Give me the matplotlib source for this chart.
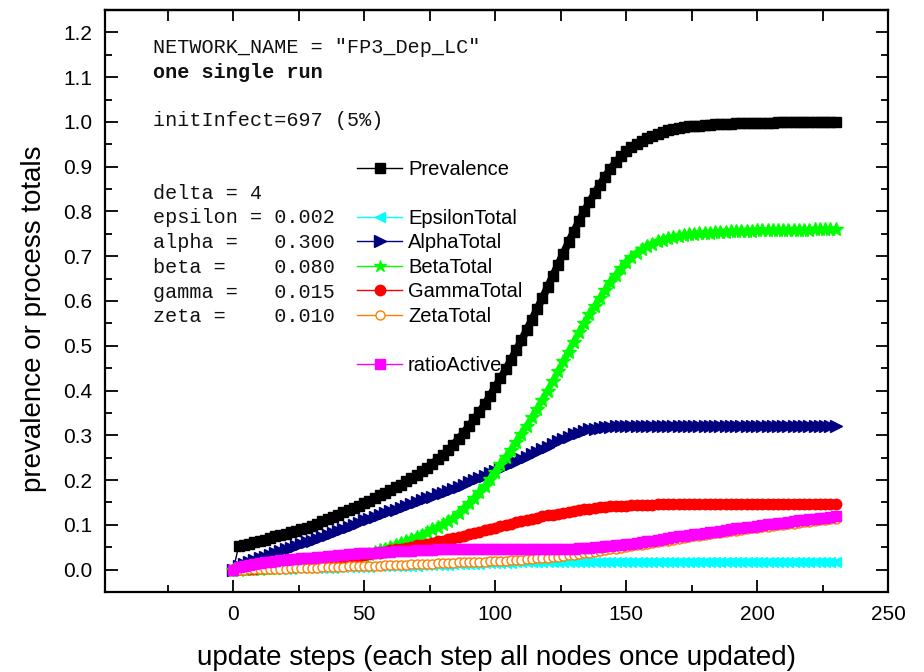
import matplotlib
matplotlib.use("Agg")
import matplotlib.pyplot as plt
from matplotlib.lines import Line2D
from matplotlib.ticker import MultipleLocator, FormatStrFormatter

plt.rcParams['font.family'] = ['Liberation Sans', 'DejaVu Sans']

# update steps (sampled every second step)
steps = list(range(0, 231, 2))

prevalence = [
    0.000, 0.052, 0.055, 0.058, 0.061, 0.064, 0.067, 0.071, 0.074, 0.077,
    0.080, 0.084, 0.087, 0.090, 0.094, 0.098, 0.103, 0.108, 0.113, 0.118,
    0.123, 0.128, 0.133, 0.138, 0.143, 0.148, 0.154, 0.160, 0.166, 0.172,
    0.178, 0.184, 0.190, 0.197, 0.204, 0.212, 0.220, 0.228, 0.237, 0.246,
    0.256, 0.267, 0.279, 0.292, 0.306, 0.321, 0.336, 0.352, 0.369, 0.388,
    0.408, 0.427, 0.447, 0.468, 0.490, 0.512, 0.535, 0.558, 0.582, 0.606,
    0.631, 0.656, 0.681, 0.706, 0.731, 0.755, 0.778, 0.800, 0.821, 0.841,
    0.860, 0.878, 0.895, 0.910, 0.923, 0.934, 0.943, 0.951, 0.958, 0.964,
    0.969, 0.974, 0.978, 0.981, 0.984, 0.986, 0.988, 0.990, 0.991, 0.992,
    0.993, 0.994, 0.995, 0.995, 0.996, 0.996, 0.997, 0.997, 0.997, 0.998,
    0.998, 0.998, 0.998, 0.998, 0.999, 0.999, 0.999, 0.999, 0.999, 0.999,
    0.999, 0.999, 1.000, 1.000, 1.000, 1.000,
]

epsilon_total = [
    0.000, 0.000, 0.000, 0.001, 0.001, 0.001, 0.001, 0.001, 0.002, 0.002,
    0.002, 0.002, 0.003, 0.003, 0.003, 0.003, 0.004, 0.004, 0.004, 0.004,
    0.005, 0.005, 0.005, 0.006, 0.006, 0.006, 0.006, 0.007, 0.007, 0.007,
    0.008, 0.008, 0.008, 0.009, 0.009, 0.009, 0.010, 0.010, 0.010, 0.011,
    0.011, 0.011, 0.012, 0.012, 0.012, 0.013, 0.013, 0.013, 0.014, 0.014,
    0.014, 0.015, 0.015, 0.015, 0.016, 0.016, 0.016, 0.016, 0.017, 0.017,
    0.017, 0.017, 0.017, 0.017, 0.018, 0.018, 0.018, 0.018, 0.018, 0.018,
    0.018, 0.018, 0.018, 0.018, 0.018, 0.018, 0.018, 0.018, 0.018, 0.018,
    0.018, 0.018, 0.018, 0.018, 0.018, 0.018, 0.018, 0.018, 0.018, 0.018,
    0.018, 0.018, 0.018, 0.018, 0.018, 0.018, 0.018, 0.018, 0.018, 0.018,
    0.018, 0.018, 0.018, 0.018, 0.018, 0.018, 0.018, 0.018, 0.018, 0.018,
    0.018, 0.018, 0.018, 0.018, 0.018, 0.018,
]

alpha_total = [
    0.000, 0.008, 0.013, 0.017, 0.021, 0.025, 0.029, 0.033, 0.037, 0.041,
    0.045, 0.049, 0.053, 0.057, 0.061, 0.065, 0.069, 0.073, 0.078, 0.082,
    0.087, 0.091, 0.096, 0.100, 0.105, 0.110, 0.114, 0.118, 0.122, 0.126,
    0.130, 0.134, 0.138, 0.142, 0.146, 0.151, 0.155, 0.159, 0.163, 0.168,
    0.172, 0.176, 0.181, 0.185, 0.190, 0.195, 0.200, 0.205, 0.210, 0.215,
    0.220, 0.225, 0.231, 0.236, 0.241, 0.247, 0.252, 0.258, 0.263, 0.269,
    0.275, 0.281, 0.287, 0.292, 0.297, 0.302, 0.306, 0.310, 0.313, 0.315,
    0.317, 0.318, 0.319, 0.320, 0.320, 0.321, 0.321, 0.321, 0.321, 0.321,
    0.321, 0.321, 0.321, 0.321, 0.321, 0.321, 0.321, 0.321, 0.321, 0.321,
    0.321, 0.321, 0.321, 0.321, 0.321, 0.321, 0.321, 0.321, 0.321, 0.321,
    0.321, 0.321, 0.321, 0.321, 0.321, 0.321, 0.321, 0.321, 0.321, 0.321,
    0.321, 0.321, 0.321, 0.321, 0.321, 0.321,
]

beta_total = [
    0.000, 0.000, 0.001, 0.001, 0.002, 0.002, 0.003, 0.003, 0.004, 0.005,
    0.006, 0.006, 0.007, 0.008, 0.009, 0.010, 0.011, 0.012, 0.013, 0.015,
    0.018, 0.020, 0.022, 0.025, 0.028, 0.031, 0.035, 0.039, 0.043, 0.047,
    0.051, 0.055, 0.059, 0.063, 0.068, 0.073, 0.078, 0.084, 0.090, 0.096,
    0.102, 0.109, 0.116, 0.127, 0.137, 0.148, 0.160, 0.173, 0.187, 0.203,
    0.219, 0.235, 0.251, 0.268, 0.285, 0.303, 0.321, 0.340, 0.359, 0.379,
    0.400, 0.421, 0.443, 0.465, 0.487, 0.509, 0.530, 0.550, 0.570, 0.589,
    0.607, 0.625, 0.642, 0.658, 0.673, 0.686, 0.698, 0.708, 0.716, 0.723,
    0.728, 0.733, 0.737, 0.740, 0.743, 0.745, 0.747, 0.749, 0.750, 0.751,
    0.752, 0.753, 0.754, 0.755, 0.755, 0.756, 0.756, 0.757, 0.757, 0.757,
    0.758, 0.758, 0.758, 0.758, 0.758, 0.759, 0.759, 0.759, 0.759, 0.759,
    0.759, 0.760, 0.760, 0.760, 0.760, 0.760,
]

gamma_total = [
    0.000, 0.001, 0.001, 0.002, 0.002, 0.003, 0.004, 0.005, 0.005, 0.006,
    0.008, 0.009, 0.010, 0.012, 0.013, 0.015, 0.016, 0.018, 0.019, 0.021,
    0.023, 0.024, 0.026, 0.028, 0.030, 0.032, 0.034, 0.036, 0.038, 0.040,
    0.043, 0.045, 0.047, 0.049, 0.051, 0.054, 0.056, 0.058, 0.060, 0.063,
    0.065, 0.068, 0.070, 0.073, 0.076, 0.079, 0.082, 0.085, 0.088, 0.091,
    0.094, 0.097, 0.100, 0.103, 0.106, 0.108, 0.111, 0.114, 0.116, 0.119,
    0.121, 0.123, 0.125, 0.127, 0.129, 0.131, 0.133, 0.135, 0.136, 0.138,
    0.139, 0.140, 0.141, 0.142, 0.143, 0.143, 0.144, 0.144, 0.145, 0.145,
    0.145, 0.146, 0.146, 0.146, 0.146, 0.146, 0.146, 0.146, 0.146, 0.146,
    0.146, 0.147, 0.147, 0.147, 0.147, 0.147, 0.147, 0.147, 0.147, 0.147,
    0.147, 0.147, 0.147, 0.147, 0.147, 0.147, 0.147, 0.147, 0.147, 0.147,
    0.147, 0.147, 0.147, 0.147, 0.147, 0.147,
]

zeta_total = [
    0.000, 0.000, 0.000, 0.001, 0.001, 0.001, 0.001, 0.002, 0.002, 0.002,
    0.002, 0.003, 0.003, 0.003, 0.004, 0.004, 0.004, 0.005, 0.005, 0.006,
    0.006, 0.006, 0.007, 0.007, 0.008, 0.008, 0.008, 0.009, 0.009, 0.010,
    0.010, 0.010, 0.011, 0.011, 0.012, 0.012, 0.012, 0.013, 0.013, 0.014,
    0.014, 0.015, 0.015, 0.016, 0.016, 0.017, 0.017, 0.018, 0.018, 0.019,
    0.019, 0.020, 0.020, 0.021, 0.022, 0.022, 0.023, 0.024, 0.025, 0.026,
    0.027, 0.028, 0.029, 0.030, 0.032, 0.033, 0.035, 0.036, 0.038, 0.040,
    0.041, 0.043, 0.045, 0.047, 0.049, 0.050, 0.052, 0.054, 0.056, 0.058,
    0.060, 0.062, 0.064, 0.065, 0.067, 0.069, 0.071, 0.072, 0.074, 0.076,
    0.078, 0.079, 0.081, 0.082, 0.084, 0.086, 0.087, 0.089, 0.090, 0.092,
    0.093, 0.095, 0.096, 0.097, 0.099, 0.100, 0.102, 0.103, 0.104, 0.106,
    0.107, 0.109, 0.110, 0.111, 0.113, 0.114,
]

ratio_active = [
    0.000, 0.005, 0.008, 0.011, 0.013, 0.015, 0.017, 0.018, 0.020, 0.021,
    0.022, 0.023, 0.024, 0.025, 0.026, 0.027, 0.028, 0.029, 0.030, 0.031,
    0.032, 0.033, 0.034, 0.035, 0.036, 0.037, 0.037, 0.038, 0.039, 0.039,
    0.040, 0.041, 0.041, 0.042, 0.042, 0.043, 0.043, 0.044, 0.044, 0.045,
    0.045, 0.045, 0.046, 0.046, 0.046, 0.046, 0.046, 0.046, 0.046, 0.046,
    0.045, 0.045, 0.045, 0.045, 0.045, 0.045, 0.045, 0.045, 0.045, 0.045,
    0.045, 0.046, 0.046, 0.046, 0.047, 0.047, 0.048, 0.048, 0.049, 0.050,
    0.051, 0.052, 0.053, 0.054, 0.056, 0.057, 0.058, 0.060, 0.062, 0.063,
    0.065, 0.067, 0.069, 0.070, 0.072, 0.074, 0.075, 0.077, 0.079, 0.080,
    0.082, 0.084, 0.085, 0.087, 0.088, 0.090, 0.092, 0.093, 0.095, 0.096,
    0.098, 0.099, 0.101, 0.102, 0.104, 0.105, 0.107, 0.108, 0.110, 0.111,
    0.112, 0.114, 0.115, 0.116, 0.118, 0.119,
]

param_lines = [
    ('NETWORK_NAME = "FP3_Dep_LC"', 'normal'),
    ('one single run', 'bold'),
    ('initInfect=697 (5%)', 'normal'),
    ('delta = 4', 'normal'),
    ('epsilon = 0.002', 'normal'),
    ('alpha =   0.300', 'normal'),
    ('beta =    0.080', 'normal'),
    ('gamma =   0.015', 'normal'),
    ('zeta =    0.010', 'normal'),
]
param_y = [0.9256, 0.8832, 0.8007, 0.6747, 0.6335, 0.5905, 0.5486, 0.5057, 0.4634]

fig = plt.figure(figsize=(9.24, 6.72), dpi=100)
ax = fig.add_axes([105 / 924, 80 / 672, 783 / 924, 582 / 672])

# (name, values, colour, marker, marker size, band width, hollow, band start)
series = [
    ('Prevalence', prevalence, 'black', 's', 6.5, 5.5, False, 1),
    ('EpsilonTotal', epsilon_total, '#00FFFF', '<', 7.0, 4.5, False, 0),
    ('AlphaTotal', alpha_total, '#000080', '>', 8.0, 5.0, False, 0),
    ('BetaTotal', beta_total, '#00FF00', '*', 10.0, 4.5, False, 0),
    ('GammaTotal', gamma_total, '#FF0000', 'o', 7.5, 6.0, False, 0),
    ('ZetaTotal', zeta_total, '#FF8000', 'o', 6.5, 0.0, True, 0),
    ('ratioActive', ratio_active, '#FF00FF', 's', 6.5, 5.5, False, 0),
]

legend_keys = {}
for name, vals, col, mk, ms, band, hollow, start in series:
    face = 'white' if hollow else col
    # thin connecting line with one marker per sampled step
    ax.plot(steps, vals, color=col, lw=1.0, marker=mk, ms=ms, mfc=face,
            mec=col, mew=1.0)
    # dense marker runs merge into a solid band
    if band > 0:
        ax.plot(steps[start:], vals[start:], color=col, lw=band,
                solid_capstyle='butt', solid_joinstyle='round')
    legend_keys[name] = Line2D([], [], color=col, lw=1.0, marker=mk,
                               ms=ms if mk != '*' else 9.0, mfc=face,
                               mec=col, mew=1.0)

ax.set_xlim(-49, 250)
ax.set_ylim(-0.05, 1.25)
ax.xaxis.set_major_locator(MultipleLocator(50))
ax.xaxis.set_minor_locator(MultipleLocator(25))
ax.yaxis.set_major_locator(MultipleLocator(0.1))
ax.yaxis.set_minor_locator(MultipleLocator(0.05))
ax.yaxis.set_major_formatter(FormatStrFormatter('%.1f'))

ax.tick_params(which='both', direction='in', top=False, right=True,
               width=1.3, labelsize=15)
ax.tick_params(which='major', length=9)
ax.tick_params(which='minor', length=5)
ax.tick_params(axis='y', pad=9)
ax.tick_params(axis='x', pad=9)

top = ax.secondary_xaxis('top')
top.xaxis.set_major_locator(MultipleLocator(25))
top.tick_params(direction='in', length=8, width=1.3, labeltop=False)

for sp in ax.spines.values():
    sp.set_linewidth(1.6)
for sp in top.spines.values():
    sp.set_linewidth(1.6)

ax.set_xlabel('update steps (each step all nodes once updated)', fontsize=20)
ax.set_ylabel('prevalence or process totals', fontsize=20)
ax.xaxis.set_label_coords(0.5, -0.091)
ax.yaxis.set_label_coords(-0.074, 0.469)

for (txt, weight), yy in zip(param_lines, param_y):
    ax.text(0.0613, yy, txt, transform=ax.transAxes, fontsize=14.5,
            family=['Liberation Mono', 'DejaVu Sans Mono'], weight=weight,
            va='baseline', ha='left', color='#111111')

blank = Line2D([], [], linestyle='none', marker='none')
leg_handles = [legend_keys['Prevalence'], blank,
               legend_keys['EpsilonTotal'], legend_keys['AlphaTotal'],
               legend_keys['BetaTotal'], legend_keys['GammaTotal'],
               legend_keys['ZetaTotal'], blank, legend_keys['ratioActive']]
leg_labels = ['Prevalence', ' ', 'EpsilonTotal', 'AlphaTotal', 'BetaTotal',
              'GammaTotal', 'ZetaTotal', ' ', 'ratioActive']
ax.legend(leg_handles, leg_labels, loc='upper left',
          bbox_to_anchor=(0.322, 0.742), frameon=False, fontsize=14.5,
          numpoints=1, handlelength=2.23, handletextpad=0.3,
          labelspacing=0.27, borderpad=0, borderaxespad=0)

fig.savefig('out.png', dpi=100)
